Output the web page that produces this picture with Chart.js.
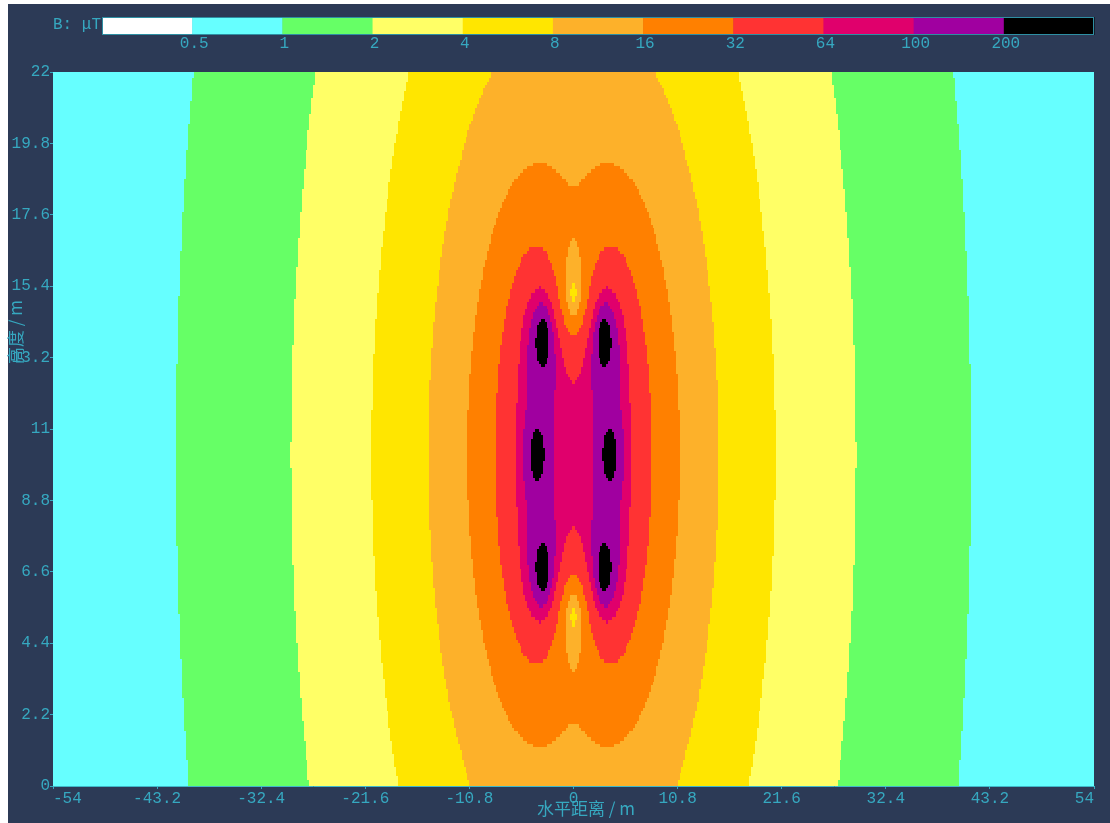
<!DOCTYPE html>
<html>
<head>
<meta charset="utf-8">
<script src="https://cdn.jsdelivr.net/npm/chart.js@4.4.1/dist/chart.umd.min.js"></script>
<style>
  html, body { margin: 0; padding: 0; background: #ffffff; }
  canvas { display: block; }
</style>
</head>
<body>
<canvas id="fieldChart" width="1110" height="823"></canvas>
<script>
const xTicks = [-54, -43.2, -32.4, -21.6, -10.8, 0, 10.8, 21.6, 32.4, 43.2, 54];
const yTicks = [0, 2.2, 4.4, 6.6, 8.8, 11, 13.2, 15.4, 17.6, 19.8, 22];

// conductors of the double-circuit line (m, degrees, A)
const conductorX = [-3.2, -3.8, -3.2, 3.2, 3.8, 3.2];
const conductorY = [13.8, 10.2, 6.6, 13.8, 10.2, 6.6];
const conductorPhase = [0, -120, 120, 0, -120, 120];
const conductorCurrent = [672, 672, 672, 672, 672, 672];

const bandLimits = [0.5, 1, 2, 4, 8, 16, 32, 64, 100, 200];
const bandLabels = ['0.5', '1', '2', '4', '8', '16', '32', '64', '100', '200'];
const bandColors = ['#ffffff', '#66ffff', '#66ff66', '#ffff66', '#ffe600', '#fdb12a',
                    '#ff8000', '#ff3333', '#e0006c', '#a000a0', '#000000'];

const TEXT = '#36a8c0';
const NAVY = '#2c3a56';
const FONT = '"Liberation Mono", "DejaVu Sans Mono", monospace';
const CJK = '"Noto Sans CJK SC", "Noto Sans CJK JP", sans-serif';
const cellW = 0.2, cellH = 0.1;

function fieldAt(x, y) {
    let bxr = 0, bxi = 0, byr = 0, byi = 0;
    for (let k = 0; k < conductorX.length; k++) {
        const dx = x - conductorX[k], dy = y - conductorY[k];
        const f = 0.2 * conductorCurrent[k] / (dx * dx + dy * dy); // uT
        const ph = conductorPhase[k] * Math.PI / 180;
        const c = Math.cos(ph), s = Math.sin(ph);
        const bx = -dy * f, by = dx * f;
        bxr += bx * c; bxi += bx * s; byr += by * c; byi += by * s;
    }
    return Math.sqrt(bxr * bxr + bxi * bxi + byr * byr + byi * byi);
}

function bandOf(b) {
    let k = 0;
    while (k < bandLimits.length && b >= bandLimits[k]) k++;
    return k;
}

const backgroundPlugin = {
    id: 'background',
    beforeDraw(chart) {
        const ctx = chart.ctx;
        ctx.save();
        ctx.fillStyle = '#ffffff';
        ctx.fillRect(0, 0, chart.width, chart.height);
        ctx.fillStyle = NAVY;
        ctx.fillRect(8, 4, chart.width - 8, chart.height - 4);
        ctx.restore();
    }
};

const fieldPlugin = {
    id: 'fieldMap',
    beforeDatasetsDraw(chart) {
        const { ctx, chartArea, scales: { x, y } } = chart;
        const nx = Math.round((x.max - x.min) / cellW);
        const ny = Math.round((y.max - y.min) / cellH);
        ctx.save();
        ctx.beginPath();
        ctx.rect(chartArea.left, chartArea.top, chartArea.right - chartArea.left, chartArea.bottom - chartArea.top);
        ctx.clip();
        for (let j = 0; j < ny; j++) {
            const y0 = y.min + j * cellH;
            const pyTop = Math.round(y.getPixelForValue(y0 + cellH));
            const pyBot = Math.round(y.getPixelForValue(y0));
            let runStart = 0, runBand = bandOf(fieldAt(x.min + cellW / 2, y0 + cellH / 2));
            for (let i = 1; i <= nx; i++) {
                const band = i < nx ? bandOf(fieldAt(x.min + (i + 0.5) * cellW, y0 + cellH / 2)) : -1;
                if (band !== runBand) {
                    const px0 = Math.round(x.getPixelForValue(x.min + runStart * cellW));
                    const px1 = Math.round(x.getPixelForValue(x.min + i * cellW));
                    ctx.fillStyle = bandColors[runBand];
                    ctx.fillRect(px0, pyTop, px1 - px0, pyBot - pyTop);
                    runStart = i;
                    runBand = band;
                }
            }
        }
        ctx.restore();
    }
};

const legendPlugin = {
    id: 'colorBar',
    afterDraw(chart) {
        const ctx = chart.ctx;
        const left = 102, right = 1094, top = 17, bottom = 35;
        const w = (right - left) / bandColors.length;
        ctx.save();
        bandColors.forEach((c, i) => {
            ctx.fillStyle = c;
            ctx.fillRect(left + i * w, top, w + 0.5, bottom - top);
        });
        ctx.strokeStyle = '#2e8fa3';
        ctx.lineWidth = 1;
        ctx.strokeRect(left + 0.5, top + 0.5, right - left - 1, bottom - top - 1);
        ctx.fillStyle = TEXT;
        ctx.font = '16px ' + FONT;
        ctx.textBaseline = 'middle';
        ctx.textAlign = 'center';
        bandLabels.forEach((t, i) => ctx.fillText(t, left + (i + 1) * w + 2, 44));
        ctx.textAlign = 'right';
        ctx.fillText('B: μT', 101, 25);

        // axis titles
        ctx.font = '17px ' + CJK;
        ctx.textAlign = 'center';
        ctx.fillText('水平距离 / m', 586, 809);
        ctx.translate(16, 332);
        ctx.rotate(-Math.PI / 2);
        ctx.fillText('高度 / m', 0, 0);
        ctx.restore();
    }
};

new Chart(document.getElementById('fieldChart'), {
    type: 'scatter',
    data: { datasets: [{ data: [], pointRadius: 0 }] },
    options: {
        responsive: false,
        animation: false,
        events: [],
        layout: { padding: { left: 0, top: 72, right: 16, bottom: 0 } },
        plugins: { legend: { display: false }, tooltip: { enabled: false } },
        scales: {
            x: {
                type: 'linear', min: -54, max: 54,
                afterBuildTicks: axis => { axis.ticks = xTicks.map(v => ({ value: v })); },
                afterFit: axis => { axis.height = 37; },
                border: { color: '#3fb8c8', width: 1 },
                grid: { drawOnChartArea: false, drawTicks: true, tickLength: 3, color: TEXT },
                ticks: {
                    color: TEXT, padding: 0, maxRotation: 0, autoSkip: false, align: 'inner',
                    font: { family: FONT, size: 16 },
                    callback: v => String(v)
                }
            },
            y: {
                type: 'linear', min: 0, max: 22,
                afterBuildTicks: axis => { axis.ticks = yTicks.map(v => ({ value: v })); },
                afterFit: axis => { axis.width = 53; },
                border: { color: '#3fb8c8', width: 1 },
                grid: { drawOnChartArea: false, drawTicks: true, tickLength: 3, color: TEXT },
                ticks: {
                    color: TEXT, padding: 0, autoSkip: false,
                    font: { family: FONT, size: 16 },
                    callback: v => String(v)
                }
            }
        }
    },
    plugins: [backgroundPlugin, fieldPlugin, legendPlugin]
});
</script>
</body>
</html>
